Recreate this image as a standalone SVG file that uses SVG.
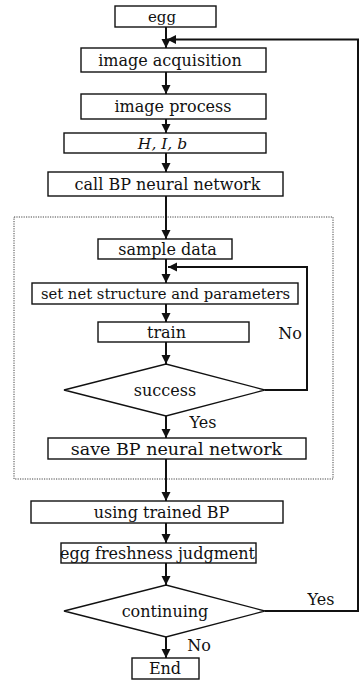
<svg xmlns="http://www.w3.org/2000/svg" width="360" height="683" viewBox="0 0 360 683">
  <style>
    .box { fill: #fff; stroke: #111; stroke-width: 1.4; }
    .lbl { font-family: "DejaVu Serif", "Liberation Serif", serif; font-size: 16px; fill: #111; text-anchor: middle; }
    .it { font-style: italic; }
    .wire { fill: none; stroke: #111; stroke-width: 2; }
    .frame { fill: none; stroke: #444; stroke-width: 1; stroke-dasharray: 1.2 1.2; }
  </style>
  <defs>
    <marker id="arrow" markerUnits="userSpaceOnUse" markerWidth="10" markerHeight="10" refX="9" refY="5" orient="auto">
      <path d="M0,0.5 L9,5 L0,9.5 z" fill="#111"/>
    </marker>
  </defs>
  <rect x="0" y="0" width="360" height="683" fill="#fff"/>

  <!-- dotted frame around the training block -->
  <rect class="frame" x="14" y="217" width="319" height="262"/>

  <g id="connectors">
    <line class="wire" x1="166" y1="27" x2="166" y2="48" marker-end="url(#arrow)"/>
    <line class="wire" x1="166" y1="72" x2="166" y2="94" marker-end="url(#arrow)"/>
    <line class="wire" x1="166" y1="119" x2="166" y2="133" marker-end="url(#arrow)"/>
    <line class="wire" x1="166" y1="153" x2="166" y2="172" marker-end="url(#arrow)"/>
    <line class="wire" x1="166" y1="196" x2="166" y2="239" marker-end="url(#arrow)"/>
    <line class="wire" x1="166" y1="259" x2="166" y2="283" marker-end="url(#arrow)"/>
    <line class="wire" x1="166" y1="304" x2="166" y2="322" marker-end="url(#arrow)"/>
    <line class="wire" x1="166" y1="342" x2="166" y2="364" marker-end="url(#arrow)"/>
    <line class="wire" x1="166" y1="416" x2="166" y2="438" marker-end="url(#arrow)"/>
    <line class="wire" x1="166" y1="459" x2="166" y2="501" marker-end="url(#arrow)"/>
    <line class="wire" x1="166" y1="523" x2="166" y2="543" marker-end="url(#arrow)"/>
    <line class="wire" x1="166" y1="563" x2="166" y2="585" marker-end="url(#arrow)"/>
    <line class="wire" x1="166" y1="637" x2="166" y2="658" marker-end="url(#arrow)"/>
    <!-- retrain loop -->
    <polyline class="wire" points="265,390 307,390 307,267 168,267" marker-end="url(#arrow)"/>
    <!-- continue loop -->
    <polyline class="wire" points="265,611 358,611 358,39.5 167,39.5" marker-end="url(#arrow)"/>
    <text class="lbl" x="290" y="339">No</text>
    <text class="lbl" x="203" y="428">Yes</text>
    <text class="lbl" x="321" y="605">Yes</text>
    <text class="lbl" x="199" y="651">No</text>
  </g>

  <g id="egg">
    <rect class="box" x="115" y="6" width="101" height="21"/>
    <text class="lbl" x="162" y="22" style="font-size:15px">egg</text>
  </g>
  <g id="acquisition">
    <rect class="box" x="81" y="48" width="185" height="24"/>
    <text class="lbl" x="170" y="65.5">image acquisition</text>
  </g>
  <g id="process">
    <rect class="box" x="81" y="94" width="185" height="25"/>
    <text class="lbl" x="173" y="112">image process</text>
  </g>
  <g id="features">
    <rect class="box" x="64" y="133" width="202" height="20"/>
    <text class="lbl it" x="162.5" y="148.5" style="font-size:15.5px">H, I, b</text>
  </g>
  <g id="call-bp">
    <rect class="box" x="48" y="172" width="235" height="24"/>
    <text class="lbl" x="167.5" y="189.5">call BP neural network</text>
  </g>
  <g id="sample">
    <rect class="box" x="98" y="239" width="134" height="20"/>
    <text class="lbl" x="167.5" y="254.5">sample data</text>
  </g>
  <g id="structure">
    <rect class="box" x="32" y="283" width="266" height="21"/>
    <text class="lbl" x="165.5" y="298.5" style="font-size:14.8px">set net structure and parameters</text>
  </g>
  <g id="train">
    <rect class="box" x="98" y="322" width="151" height="20"/>
    <text class="lbl" x="166.5" y="337.5">train</text>
  </g>
  <g id="success">
    <polygon class="box" points="64,390 166,364 265,390 166,416"/>
    <text class="lbl" x="165" y="395.5">success</text>
  </g>
  <g id="save">
    <rect class="box" x="48" y="438" width="258" height="21"/>
    <text class="lbl" x="176.5" y="454.5" style="font-size:17.5px">save BP neural network</text>
  </g>
  <g id="using">
    <rect class="box" x="31" y="501" width="252" height="22"/>
    <text class="lbl" x="161.5" y="517.5">using trained BP</text>
  </g>
  <g id="judgment">
    <rect class="box" x="61" y="543" width="195" height="20"/>
    <text class="lbl" x="157.5" y="558.5">egg freshness judgment</text>
  </g>
  <g id="continuing">
    <polygon class="box" points="64,611 166,585 265,611 166,637"/>
    <text class="lbl" x="165" y="616.5">continuing</text>
  </g>
  <g id="end">
    <rect class="box" x="132" y="658" width="67" height="21"/>
    <text class="lbl" x="165" y="674">End</text>
  </g>
</svg>
